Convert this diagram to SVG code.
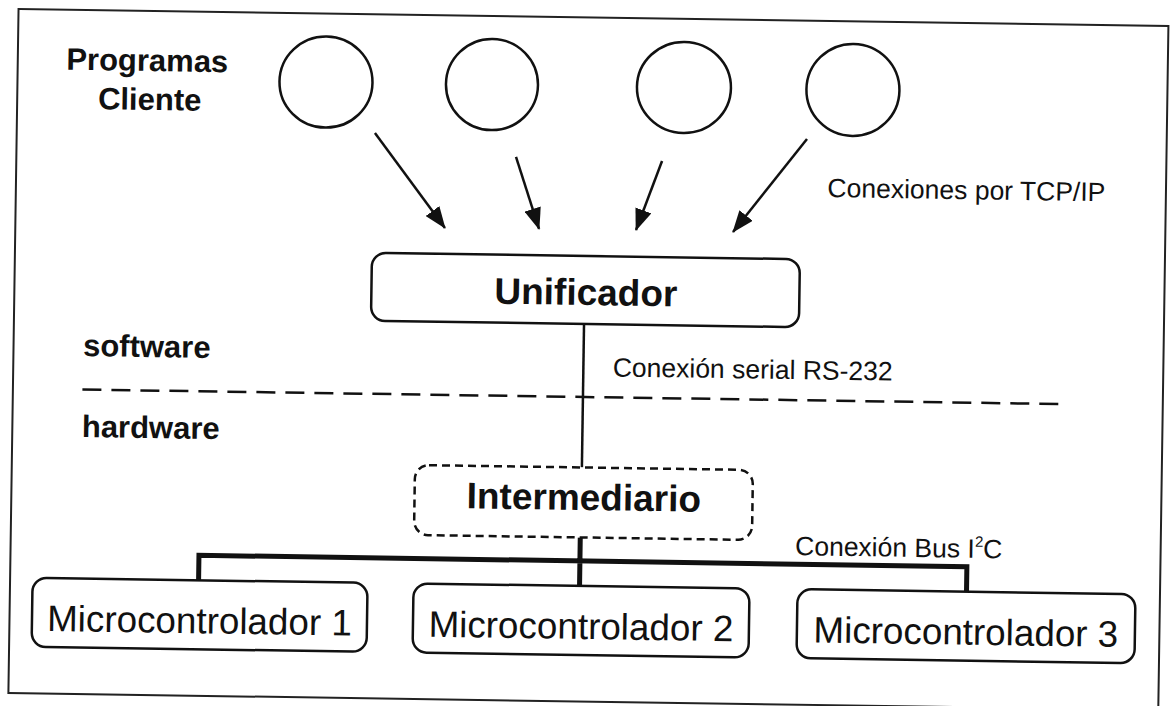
<svg xmlns="http://www.w3.org/2000/svg" width="1172" height="706" viewBox="0 0 1172 706">
  <style>
    .line { fill: none; stroke: #111; stroke-width: 2.5; }
    .box { fill: #fff; stroke: #111; stroke-width: 2.5; }
    .dashbox { fill: #fff; stroke: #111; stroke-width: 2.5; stroke-dasharray: 8 5; }
    .client { fill: #fff; stroke: #111; stroke-width: 2.5; }
    .bus { fill: none; stroke: #111; stroke-width: 5; stroke-linejoin: miter; }
    .divider { fill: none; stroke: #111; stroke-width: 2.5; stroke-dasharray: 19 10; }
    .frame { fill: none; stroke: #222; stroke-width: 2; }
    text { font-family: "Liberation Sans", Arial, sans-serif; fill: #111; }
    .title { font-size: 37px; font-weight: bold; text-anchor: middle; }
    .side { font-size: 31px; font-weight: bold; }
    .label { font-size: 26.5px; }
    .mc { font-size: 36.8px; text-anchor: middle; }
  </style>
  <defs>
    <marker id="arrow" viewBox="0 0 22 17" markerWidth="22" markerHeight="17" markerUnits="userSpaceOnUse" refX="21" refY="8.5" orient="auto">
      <path d="M0,0 L22,8.5 L0,17 z" fill="#111"/>
    </marker>
  </defs>
  <rect width="1172" height="706" fill="#fff"/>
  <g transform="rotate(0.85 586 353)">
    <rect class="frame" x="13.5" y="17.5" width="1150" height="684"/>

    <g id="label-clients">
      <text class="side" x="143" y="77.5" text-anchor="middle">Programas</text>
      <text class="side" x="146" y="116.5" text-anchor="middle">Cliente</text>
    </g>

    <g id="client-1"><ellipse class="client" cx="322" cy="86" rx="46.5" ry="45.5"/></g>
    <g id="client-2"><ellipse class="client" cx="488" cy="86" rx="46" ry="45.5"/></g>
    <g id="client-3"><ellipse class="client" cx="680" cy="86" rx="47" ry="45.5"/></g>
    <g id="client-4"><ellipse class="client" cx="849" cy="86" rx="46.5" ry="46"/></g>

    <g id="connectors">
      <line class="line" x1="371.7" y1="136.1" x2="443.1" y2="230.1" marker-end="url(#arrow)"/>
      <line class="line" x1="513.1" y1="158" x2="537.2" y2="229.7" marker-end="url(#arrow)"/>
      <line class="line" x1="659.2" y1="159.9" x2="634.2" y2="229.3" marker-end="url(#arrow)"/>
      <line class="line" x1="803.8" y1="135.7" x2="731.2" y2="229.8" marker-end="url(#arrow)"/>
      <line class="line" x1="583.6" y1="324" x2="583.6" y2="467.5"/>
      <path class="bus" d="M202,586 V561 H970 V586 M583,537.5 V588"/>
    </g>

    <text class="label" x="825" y="193.5">Conexiones por TCP/IP</text>

    <g id="unificador">
      <rect class="box" x="370.5" y="256" width="428" height="68" rx="14"/>
      <text class="title" x="585" y="305">Unificador</text>
    </g>

    <text class="label" x="613" y="376">Conexión serial RS-232</text>

    <g id="layers">
      <text class="side" x="83" y="363.5">software</text>
      <path class="divider" d="M83,397 H1066"/>
      <text class="side" x="83" y="444.5">hardware</text>
    </g>

    <g id="intermediario">
      <rect class="dashbox" x="416.7" y="467.5" width="338" height="70" rx="14"/>
      <text class="title" x="586" y="510">Intermediario</text>
    </g>

    <text class="label" x="798" y="552">Conexión Bus I<tspan font-size="15" dy="-11">2</tspan><tspan dy="11">C</tspan></text>

    <g id="micro-1">
      <rect class="box" x="36" y="586" width="335" height="69" rx="14"/>
      <text class="mc" x="203.5" y="639">Microcontrolador 1</text>
    </g>
    <g id="micro-2">
      <rect class="box" x="417" y="586" width="336" height="69" rx="14"/>
      <text class="mc" x="585" y="639">Microcontrolador 2</text>
    </g>
    <g id="micro-3">
      <rect class="box" x="801" y="586" width="338" height="69" rx="14"/>
      <text class="mc" x="970" y="639">Microcontrolador 3</text>
    </g>
  </g>
</svg>
